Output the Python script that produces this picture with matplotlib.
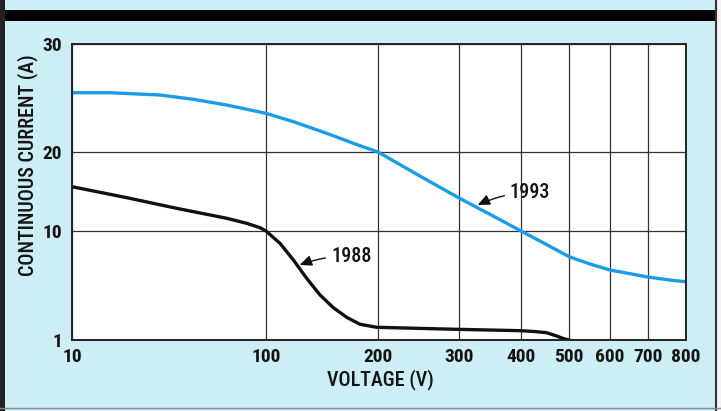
import matplotlib.pyplot as plt
import numpy as np
from matplotlib.patches import Rectangle
from matplotlib.lines import Line2D

plt.rcParams['font.family'] = ['DejaVu Sans Condensed', 'Roboto Condensed',
                               'Liberation Sans Narrow', 'DejaVu Sans']
plt.rcParams['font.stretch'] = 'condensed'

# axis ticks (the printed grid is hand-spaced, not log or linear)
volt_ticks = [10, 100, 200, 300, 400, 500, 600, 700, 800]
amp_ticks = [1, 10, 20, 30]

# 1993 device: continuous current vs voltage
v_1993 = [10, 27.6, 50.8, 66.3, 81.8, 100, 124.4, 154.2, 183.9, 200, 249.4, 300,
          350, 400, 450, 500, 551, 600, 700, 758, 800]
i_1993 = [25.49, 25.49, 25.28, 24.88, 24.35, 23.58, 22.81, 21.73, 20.58, 20.0, 17.09, 14.18,
          12.11, 10.0, 8.95, 7.88, 7.28, 6.78, 6.20, 5.95, 5.81]

# 1988 device
v_1988 = [10, 35.4, 58.6, 81.8, 91.1, 97.2, 100, 112.5, 124.4, 136.3, 148.2, 160.1,
          172.1, 183.9, 198.8, 251.9, 300, 400, 429, 453.5, 474.3, 488.1, 500]
i_1988 = [15.61, 14.22, 12.87, 11.61, 10.97, 10.42, 10.0, 8.98, 7.61, 6.09, 4.72, 3.67,
          2.87, 2.30, 2.05, 1.96, 1.88, 1.77, 1.70, 1.60, 1.33, 1.12, 1.0]

# relative spacing of the grid lines on the printed chart
x_pos = [0, 194, 306, 387, 449, 497, 538, 576, 614]
y_pos = [0, 109, 188, 296]


def x_fwd(v):
    return np.interp(v, volt_ticks, x_pos)


def x_inv(p):
    return np.interp(p, x_pos, volt_ticks)


def y_fwd(v):
    return np.interp(v, amp_ticks, y_pos)


def y_inv(p):
    return np.interp(p, y_pos, amp_ticks)


bg = '#cdeef5'
ink = '#141414'
fig = plt.figure(figsize=(7.21, 4.11), dpi=100, facecolor=bg)
ax = fig.add_axes([0.0999, 0.1727, 0.8516, 0.7202])
ax.set_facecolor('white')

ax.set_xscale('function', functions=(x_fwd, x_inv))
ax.set_yscale('function', functions=(y_fwd, y_inv))
ax.set_xlim(10, 800)
ax.set_ylim(1, 30)

ax.plot(v_1993, i_1993, color='#1a9de6', lw=2.4, solid_joinstyle='round')
ax.plot(v_1988, i_1988, color='#111111', lw=2.4, solid_joinstyle='round')

ax.set_xticks(volt_ticks)
ax.set_xticklabels([str(v) for v in volt_ticks])
ax.set_yticks(amp_ticks)
ax.set_yticklabels([str(v) for v in amp_ticks])
ax.xaxis.set_minor_locator(plt.NullLocator())
ax.yaxis.set_minor_locator(plt.NullLocator())
ax.tick_params(length=0, labelsize=14, colors=ink)
ax.tick_params(axis='x', pad=6)
ax.tick_params(axis='y', pad=7)
for lab in ax.get_xticklabels() + ax.get_yticklabels():
    lab.set_fontweight('bold')

ax.grid(True, color='#333333', lw=0.9)
for s in ax.spines.values():
    s.set_linewidth(1.4)
    s.set_color('#222222')

ax.set_xlabel('VOLTAGE (V)', fontsize=14.5, fontweight='medium', color=ink)
ax.xaxis.set_label_coords(0.502, -0.098)
ax.set_ylabel('CONTINUOUS CURRENT (A)', fontsize=14.5, fontweight='medium', color=ink)
ax.yaxis.set_label_coords(-0.055, 0.59)

arrow = dict(arrowstyle='-|>,head_length=0.5,head_width=0.22', color='#111111',
             lw=1.0, shrinkA=2, shrinkB=0, connectionstyle='arc3,rad=0.1')
ax.annotate('1993', xy=(330, 13.3), xytext=(382, 14.9), fontsize=14.5,
            fontweight='medium', ha='left', va='center', color=ink, arrowprops=arrow)
ax.annotate('1988', xy=(130, 7.2), xytext=(158, 7.9), fontsize=14.5,
            fontweight='medium', ha='left', va='center', color=ink, arrowprops=arrow)

# page furniture: heading rule and edges of the box
fig.add_artist(Rectangle((0, 1 - 21 / 411), 1, 11 / 411, transform=fig.transFigure,
                         color='black', lw=0))
fig.add_artist(Rectangle((0, 0), 5 / 721, 1, transform=fig.transFigure,
                         color='#222222', lw=0))
fig.add_artist(Line2D([716 / 721, 716 / 721], [0, 1], transform=fig.transFigure,
                      color='#333333', lw=1.5))
fig.add_artist(Rectangle((717 / 721, 0), 4 / 721, 1, transform=fig.transFigure,
                         color='#f2f2f2', lw=0))
fig.add_artist(Line2D([0, 1], [3 / 411, 3 / 411], transform=fig.transFigure,
                      color='#888888', lw=1.0))

fig.savefig('out.png', dpi=100, facecolor=bg)
